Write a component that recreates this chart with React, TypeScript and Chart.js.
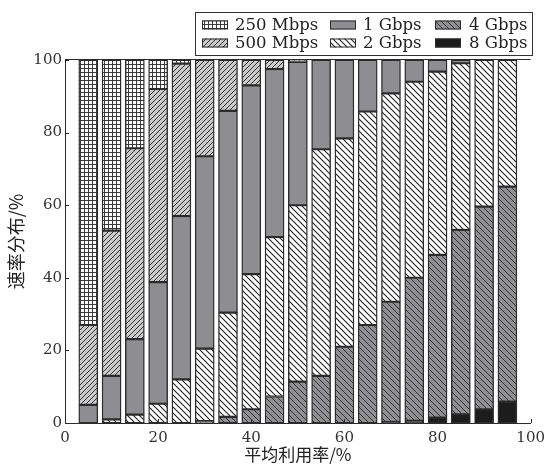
import React, { useEffect, useRef } from "react";
import { Chart, registerables } from "chart.js";

Chart.register(...registerables);

const utilization = [5, 10, 15, 20, 25, 30, 35, 40, 45, 50, 55, 60, 65, 70, 75, 80, 85, 90, 95];
const rate8G = [0, 0, 0, 0, 0, 0, 0, 0, 0, 0, 0, 0, 0, 0.3, 0.6, 1.5, 2.4, 3.8, 5.9];
const rate4G = [0, 0, 0, 0, 0, 0.5, 1.7, 3.8, 7.3, 11.4, 13, 21, 27, 33.1, 39.4, 44.8, 50.8, 55.8, 59.2];
const rate2G = [0, 1, 2.3, 5.3, 12, 20, 28.7, 37.2, 43.9, 48.6, 62.4, 57.4, 58.8, 57.4, 54, 50.5, 45.9, 40.4, 34.9];
const rate1G = [5, 12, 20.8, 33.5, 45, 53, 55.6, 52, 46.3, 39.5, 24.6, 21.6, 14.2, 9.2, 6, 3.2, 0.9, 0, 0];
const rate500M = [22, 40, 52.6, 53.2, 42, 26.5, 14, 7, 2.5, 0.5, 0, 0, 0, 0, 0, 0, 0, 0, 0];
const rate250M = [73, 47, 24.3, 8, 1, 0, 0, 0, 0, 0, 0, 0, 0, 0, 0, 0, 0, 0, 0];
const yTicks = [0, 20, 40, 60, 80, 100];
const xTicks = [0, 20, 40, 60, 80, 100];
const xTitle = "平均利用率/%";
const yTitle = "速率分布/%";

const SERIF = '"DejaVu Serif", serif';
const CJK = '"Noto Sans CJK SC", sans-serif';
const EDGE = "#2b2b2b";

function makeTile(size: number, draw: (c: CanvasRenderingContext2D, s: number) => void) {
  const cv = document.createElement("canvas");
  cv.width = size;
  cv.height = size;
  const c = cv.getContext("2d")!;
  draw(c, size);
  return c.createPattern(cv, "repeat")!;
}

function diag(c: CanvasRenderingContext2D, s: number, forward: boolean, color: string, lw: number) {
  c.strokeStyle = color;
  c.lineWidth = lw;
  c.beginPath();
  if (forward) {
    c.moveTo(0, s); c.lineTo(s, 0);
    c.moveTo(-1, 1); c.lineTo(1, -1);
    c.moveTo(s - 1, s + 1); c.lineTo(s + 1, s - 1);
  } else {
    c.moveTo(0, 0); c.lineTo(s, s);
    c.moveTo(-1, s - 1); c.lineTo(1, s + 1);
    c.moveTo(s - 1, -1); c.lineTo(s + 1, 1);
  }
  c.stroke();
}

function makePatterns() {
  const grid = makeTile(4, (c, s) => {
    c.fillStyle = "#ffffff";
    c.fillRect(0, 0, s, s);
    c.fillStyle = "#3a3a3a";
    c.fillRect(0, 0, s, 1);
    c.fillRect(0, 0, 1, s);
  });
  const hatch500 = makeTile(5, (c, s) => {
    c.fillStyle = "#cacaca";
    c.fillRect(0, 0, s, s);
    diag(c, s, true, "#333333", 1);
  });
  const hatch2G = makeTile(6, (c, s) => {
    c.fillStyle = "#ffffff";
    c.fillRect(0, 0, s, s);
    diag(c, s, false, "#222222", 1.1);
  });
  const hatch4G = makeTile(6, (c, s) => {
    c.fillStyle = "#909094";
    c.fillRect(0, 0, s, s);
    diag(c, s, false, "#333333", 1);
  });
  return { grid, hatch500, hatch2G, hatch4G, solid1G: "#8e8e92", solid8G: "#1c1c1c" };
}

export default function App() {
  const ref = useRef<HTMLCanvasElement | null>(null);

  useEffect(() => {
    const canvas = ref.current;
    if (!canvas) return;
    const p = makePatterns();

    const series = [
      { label: "8 Gbps", data: rate8G, fill: p.solid8G },
      { label: "4 Gbps", data: rate4G, fill: p.hatch4G },
      { label: "2 Gbps", data: rate2G, fill: p.hatch2G },
      { label: "1 Gbps", data: rate1G, fill: p.solid1G },
      { label: "500 Mbps", data: rate500M, fill: p.hatch500 },
      { label: "250 Mbps", data: rate250M, fill: p.grid },
    ];

    const legendOrder = [
      ["250 Mbps", "1 Gbps", "4 Gbps"],
      ["500 Mbps", "2 Gbps", "8 Gbps"],
    ];

    const decor = {
      id: "decor",
      afterDraw(chart: any) {
        const ctx = chart.ctx as CanvasRenderingContext2D;
        const area = chart.chartArea;
        const xs = chart.scales.x;
        const ys = chart.scales.y;
        ctx.save();
        // top frame line
        ctx.strokeStyle = EDGE;
        ctx.lineWidth = 1;
        ctx.beginPath();
        ctx.moveTo(area.left, Math.round(area.top) - 0.5);
        ctx.lineTo(area.right, Math.round(area.top) - 0.5);
        ctx.stroke();
        // inward ticks
        ctx.beginPath();
        yTicks.forEach((v) => {
          const y = Math.round(ys.getPixelForValue(v)) + 0.5;
          ctx.moveTo(area.left, y);
          ctx.lineTo(area.left + 4, y);
        });
        xTicks.forEach((v) => {
          const x = Math.round(xs.getPixelForValue(v)) + 0.5;
          ctx.moveTo(x, area.bottom);
          ctx.lineTo(x, area.bottom - 4);
        });
        ctx.stroke();

        // axis titles
        ctx.fillStyle = "#222";
        ctx.font = `17px ${CJK}`;
        ctx.textAlign = "center";
        ctx.textBaseline = "middle";
        ctx.fillText(xTitle, (area.left + area.right) / 2, 455);
        ctx.save();
        ctx.translate(16, (area.top + area.bottom) / 2);
        ctx.rotate(-Math.PI / 2);
        ctx.font = `18px ${CJK}`;
        ctx.fillText(yTitle, 0, 0);
        ctx.restore();

        // legend
        const bx = 195.5, by = 12.5, bw = 337, bh = 43;
        ctx.fillStyle = "#ffffff";
        ctx.fillRect(bx, by, bw, bh);
        ctx.strokeStyle = "#333";
        ctx.lineWidth = 1;
        ctx.strokeRect(bx, by, bw, bh);
        const swX = [202, 330, 435];
        const txX = [235, 363, 469];
        const rowY = [25, 43];
        ctx.font = `16.5px ${SERIF}`;
        ctx.textAlign = "left";
        ctx.textBaseline = "middle";
        legendOrder.forEach((row, r) => {
          row.forEach((name, c) => {
            const s = series.find((d) => d.label === name)!;
            ctx.fillStyle = s.fill as any;
            ctx.fillRect(swX[c], rowY[r] - 4.5, 26, 9);
            ctx.strokeStyle = EDGE;
            ctx.lineWidth = 1;
            ctx.strokeRect(swX[c] + 0.5, rowY[r] - 4.5 + 0.5, 25, 8);
            ctx.fillStyle = "#222";
            ctx.fillText(name, txX[c], rowY[r] + 1);
          });
        });
        ctx.restore();
      },
    };

    const chart = new Chart(canvas, {
      type: "bar",
      data: {
        datasets: series.map((s) => ({
          label: s.label,
          data: utilization.map((x, i) => ({ x, y: s.data[i] })),
          backgroundColor: s.fill as any,
          borderColor: EDGE,
          borderWidth: 1.4,
          borderSkipped: false,
          barThickness: 19,
        })),
      },
      options: {
        responsive: false,
        animation: false,
        devicePixelRatio: 1,
        layout: { padding: { top: 60, right: 19, left: 0, bottom: 0 } },
        plugins: { legend: { display: false }, tooltip: { enabled: false }, title: { display: false } },
        scales: {
          x: {
            type: "linear",
            stacked: true,
            min: 0,
            max: 100,
            offset: false,
            grid: { display: false, drawTicks: false, offset: false },
            border: { display: true, color: EDGE, width: 1 },
            ticks: { stepSize: 20, padding: 6, color: "#333", font: { family: SERIF, size: 15 } },
            afterFit: (s: any) => { s.height = 44; },
          },
          y: {
            type: "linear",
            stacked: true,
            min: 0,
            max: 100,
            grid: { display: false, drawTicks: false },
            border: { display: true, color: EDGE, width: 1 },
            ticks: { stepSize: 20, padding: 3, color: "#333", font: { family: SERIF, size: 15 } },
            afterFit: (s: any) => { s.width = 65; },
          },
        },
      },
      plugins: [decor],
    } as any);

    return () => chart.destroy();
  }, []);

  return (
    <div style={{ position: "absolute", left: 0, top: 0, width: 551, height: 467, background: "#fff" }}>
      <canvas ref={ref} width={551} height={467} style={{ width: 551, height: 467, display: "block" }} />
    </div>
  );
}
